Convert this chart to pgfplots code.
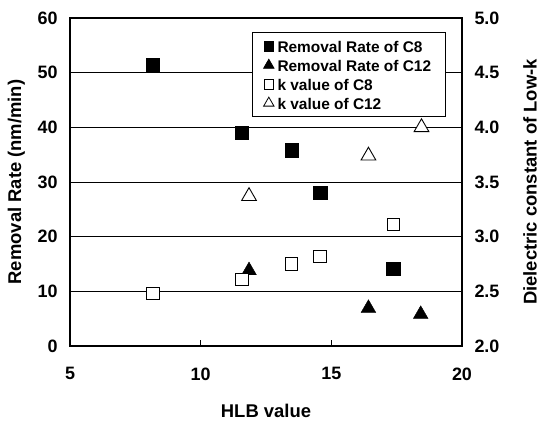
\documentclass[border=0pt]{standalone}
\usepackage{fontspec}
\setmainfont{Liberation Sans}
\usepackage{pgfplots}
\pgfplotsset{compat=1.18}
\begin{document}
\begin{tikzpicture}
\pgfplotsset{
  common/.style={
    scale only axis, width=392bp, height=328bp,
    xmin=5, xmax=20,
    tick align=inside,
    major tick length=6bp,
    tick style={black, line width=0.9bp},
    /pgf/number format/assume math mode=true,
    ticklabel style={font=\bfseries\fontsize{18}{18}\selectfont},
    label style={font=\bfseries\fontsize{18.5}{18.5}\selectfont},
  }
}
\begin{axis}[common,
  ymin=0, ymax=60,
  xtick={5,10,15,20}, ytick={0,10,...,60},
  xtick pos=bottom, ytick pos=left,
  ymajorgrids, grid style={black, line width=0.8bp},
  axis line style={line width=1.3bp},
  xticklabel style={yshift=-18bp},
  yticklabel style={xshift=-9bp},
  xlabel={HLB value},
  ylabel={Removal Rate (nm/min)},
  x label style={at={(axis description cs:0.5,-0.198)}, anchor=center},
  y label style={at={(axis description cs:-0.137,0.5)}, anchor=center},
]
\coordinate (ll) at (rel axis cs:0,0);
\coordinate (ur) at (rel axis cs:1,1);
\addplot[only marks, mark=square*, mark size=6.7bp, black] coordinates {
  (8.17,51.4) (11.58,39.0) (13.48,35.8) (14.57,28.0) (17.37,14.1)};
\addplot[only marks, mark=triangle*, mark size=8.5bp, black] coordinates {
  (11.85,13.8) (16.42,6.9) (18.42,5.8)};
\end{axis}
\begin{axis}[common,
  ymin=2, ymax=5,
  axis y line*=right, axis x line=none,
  ytick={2,2.5,...,5},
  yticklabel style={xshift=9bp, /pgf/number format/.cd, fixed, fixed zerofill, precision=1},
  ylabel={Dielectric constant of Low-k},
  y label style={at={(axis description cs:1.1735,0.5)}, anchor=center},
  axis line style={line width=1.3bp},
  legend style={at={(1,1)}, anchor=north east, xshift=-16bp, yshift=-14.5bp,
    draw=black, line width=0.8bp,
    font=\bfseries\fontsize{15.5}{15.5}\selectfont,
    row sep=0pt, inner xsep=11bp, inner ysep=4bp,
    nodes={inner sep=3.5pt, text height=12pt, text depth=0pt}},
  legend cell align=left,
]
\addlegendimage{only marks, mark=square*, mark size=4.8bp, black}
\addlegendentry{Removal Rate of C8}
\addlegendimage{only marks, mark=triangle*, mark size=6bp, black}
\addlegendentry{Removal Rate of C12}
\addlegendimage{only marks, mark=square*, mark size=4.8bp, black, fill=white, line width=0.8bp}
\addlegendentry{k value of C8}
\addlegendimage{only marks, mark=triangle*, mark size=6bp, black, fill=white, line width=0.8bp}
\addlegendentry{k value of C12}
\addplot[only marks, mark=square*, mark size=6.3bp, draw=black, fill=white, line width=0.9bp, forget plot] coordinates {
  (8.17,2.48) (11.58,2.61) (13.48,2.75) (14.57,2.82) (17.37,3.11)};
\addplot[only marks, mark=triangle*, mark size=8.5bp, draw=black, fill=white, line width=0.9bp, forget plot] coordinates {
  (11.85,3.37) (16.42,3.74) (18.45,4.00)};
\end{axis}
\pgfresetboundingbox
\path[use as bounding box] ([shift={(-70bp,-77bp)}]ll) rectangle ([shift={(77bp,18bp)}]ur);
\end{tikzpicture}
\end{document}
